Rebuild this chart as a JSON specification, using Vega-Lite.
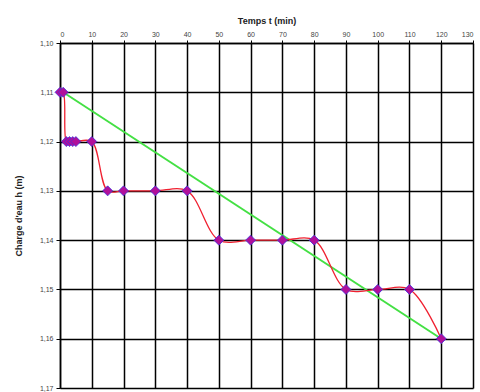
{
  "$schema": "https://vega.github.io/schema/vega-lite/v6.json",
  "width": 413,
  "height": 345,
  "autosize": {"type": "none"},
  "padding": {"left": 60, "top": 43, "right": 7, "bottom": 4},
  "background": "white",
  "config": {"view": {"stroke": null}, "font": "Liberation Sans"},
  "datasets": {
    "mesures": [
      {"i": 0, "t": 0, "h": 1.11},
      {"i": 1, "t": 1, "h": 1.11},
      {"i": 2, "t": 2, "h": 1.12},
      {"i": 3, "t": 3, "h": 1.12},
      {"i": 4, "t": 4, "h": 1.12},
      {"i": 5, "t": 5, "h": 1.12},
      {"i": 6, "t": 10, "h": 1.12},
      {"i": 7, "t": 15, "h": 1.13},
      {"i": 8, "t": 20, "h": 1.13},
      {"i": 9, "t": 30, "h": 1.13},
      {"i": 10, "t": 40, "h": 1.13},
      {"i": 11, "t": 50, "h": 1.14},
      {"i": 12, "t": 60, "h": 1.14},
      {"i": 13, "t": 70, "h": 1.14},
      {"i": 14, "t": 80, "h": 1.14},
      {"i": 15, "t": 90, "h": 1.15},
      {"i": 16, "t": 100, "h": 1.15},
      {"i": 17, "t": 110, "h": 1.15},
      {"i": 18, "t": 120, "h": 1.16}
    ],
    "tendance": [
      {"t": 1, "h": 1.11},
      {"t": 120, "h": 1.16}
    ]
  },
  "encoding": {
    "x": {
      "field": "t", "type": "quantitative",
      "scale": {"domain": [0, 130], "nice": false},
      "axis": {
        "orient": "top", "title": "Temps t (min)", "values": [0,10,20,30,40,50,60,70,80,90,100,110,120,130],
        "grid": true, "gridColor": "black", "gridWidth": 1.5, "gridOpacity": 1,
        "domainColor": "black", "domainWidth": 1.5, "tickColor": "black", "tickSize": 3,
        "labelFontSize": 7, "labelColor": "#444", "labelPadding": 3,
        "titleFontSize": 9, "titleFontWeight": "bold", "titleColor": "#222", "titlePadding": 5
      }
    },
    "y": {
      "field": "h", "type": "quantitative",
      "scale": {"domain": [1.10, 1.17], "reverse": true, "nice": false, "zero": false},
      "axis": {
        "title": "Charge d'eau h (m)", "values": [1.10,1.11,1.12,1.13,1.14,1.15,1.16,1.17],
        "labelExpr": "replace(format(datum.value, '.2f'), '.', ',')",
        "grid": true, "gridColor": "black", "gridWidth": 1.5, "gridOpacity": 1,
        "domainColor": "black", "domainWidth": 1.5, "tickColor": "black", "tickSize": 4,
        "labelFontSize": 7, "labelColor": "#444", "labelPadding": 3,
        "titleFontSize": 9, "titleFontWeight": "bold", "titleColor": "#222", "titlePadding": 16
      }
    }
  },
  "layer": [
    {
      "data": {"name": "tendance"},
      "mark": {"type": "line", "color": "#44E044", "strokeWidth": 2}
    },
    {
      "data": {"name": "mesures"},
      "mark": {"type": "line", "color": "#F02030", "strokeWidth": 1.3, "interpolate": "catmull-rom"},
      "encoding": {"order": {"field": "i", "type": "quantitative"}}
    },
    {
      "data": {"name": "mesures"},
      "mark": {"type": "point", "shape": "diamond", "filled": true, "size": 100, "color": "#B0109A", "stroke": "#4030E0", "strokeWidth": 0.8, "opacity": 1}
    }
  ]
}
